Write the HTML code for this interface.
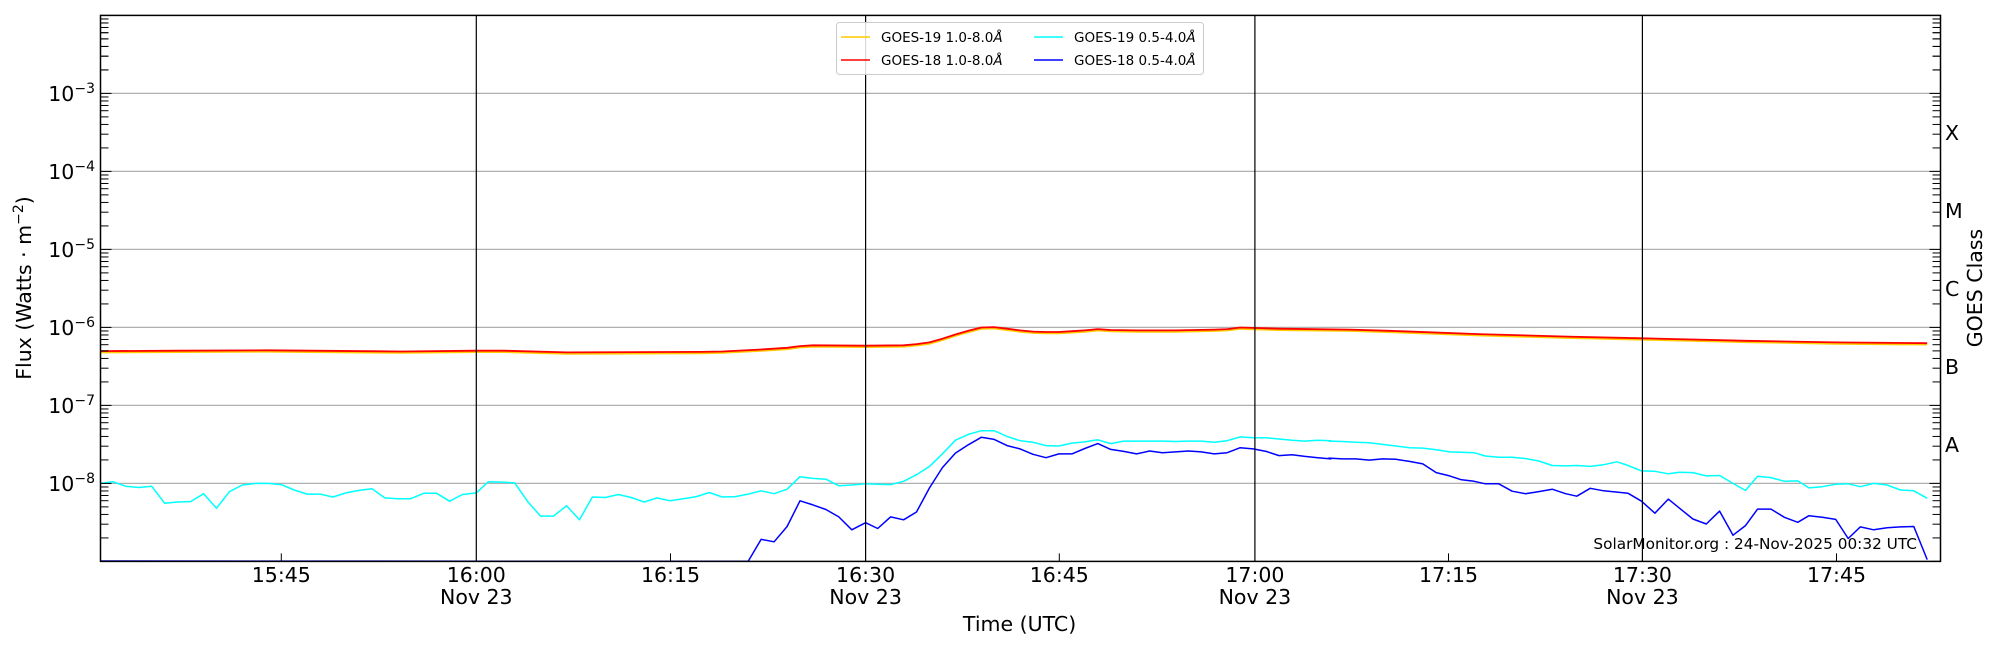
<!DOCTYPE html>
<html><head><meta charset="utf-8">
<style>
html,body{margin:0;padding:0;background:#fff;}
svg{display:block;font-family:"DejaVu Sans","Liberation Sans",sans-serif;}
</style></head>
<body>
<svg id="c" width="2000" height="650" viewBox="0 0 2000 650" xmlns="http://www.w3.org/2000/svg">
<rect x="0" y="0" width="2000" height="650" fill="#fff"/>
<g id="grid"></g>
<g id="series"></g>
<g id="axes"></g>
<g id="legend">
  <rect x="836.5" y="22.5" width="367" height="52" fill="#fff" fill-opacity="0.85" stroke="#ccc" stroke-width="1" rx="3"/>
  <line x1="841" y1="37" x2="870" y2="37" stroke="#ffcc00" stroke-width="1.5"/>
  <line x1="841" y1="60" x2="870" y2="60" stroke="#ff0000" stroke-width="1.5"/>
  <line x1="1034" y1="37" x2="1063" y2="37" stroke="#00ffff" stroke-width="1.5"/>
  <line x1="1034" y1="60" x2="1063" y2="60" stroke="#0000ff" stroke-width="1.5"/>
  <text x="881" y="41.8" font-size="13.5">GOES-19 1.0-8.0<tspan font-style="italic">Å</tspan></text>
  <text x="881" y="64.8" font-size="13.5">GOES-18 1.0-8.0<tspan font-style="italic">Å</tspan></text>
  <text x="1074" y="41.8" font-size="13.5">GOES-19 0.5-4.0<tspan font-style="italic">Å</tspan></text>
  <text x="1074" y="64.8" font-size="13.5">GOES-18 0.5-4.0<tspan font-style="italic">Å</tspan></text>
</g>
<g id="labels" font-size="20.5" fill="#000">
  <text x="1019.6" y="631" text-anchor="middle">Time (UTC)</text>
  <text transform="translate(31,288) rotate(-90)" text-anchor="middle" font-size="20.5">Flux (Watts · m<tspan baseline-shift="super" font-size="14">−2</tspan>)</text>
  <text transform="translate(1982,288) rotate(-90)" text-anchor="middle" font-size="20.5">GOES Class</text>
  <text x="1917" y="549" text-anchor="end" font-size="15.3">SolarMonitor.org : 24-Nov-2025 00:32 UTC</text>
</g>
</svg>
<script>
(function(){
var NS="http://www.w3.org/2000/svg";
function el(p,n,a,t){var e=document.createElementNS(NS,n);for(var k in a)e.setAttribute(k,a[k]);if(t!=null)e.textContent=t;p.appendChild(e);return e;}
var L=100.5,R=1940.5,T=15.4,B=561.4,DEC=78.0;
var grid=document.getElementById('grid'),axes=document.getElementById('axes'),ser=document.getElementById('series');
function yOf(e){return B-(e+9)*DEC;}
for(var e=-8;e<=-3;e++){var y=yOf(e);el(grid,'line',{x1:L,y1:y,x2:R,y2:y,stroke:'#b0b0b0','stroke-width':1.3});}
var xs=[476.3,865.6,1254.9,1642.4];
xs.forEach(function(x){el(axes,'line',{x1:x,y1:T,x2:x,y2:B,stroke:'#000','stroke-width':1.2});});
[281.3,670.5,1059.3,1448.5,1836.5].forEach(function(x){el(axes,'line',{x1:x,y1:B,x2:x,y2:B-8,stroke:'#000','stroke-width':1});});
var xl=[[281.3,'15:45',0],[476.3,'16:00',1],[670.5,'16:15',0],[865.6,'16:30',1],[1059.3,'16:45',0],[1254.9,'17:00',1],[1448.5,'17:15',0],[1642.4,'17:30',1],[1836.5,'17:45',0]];
xl.forEach(function(a){el(axes,'text',{x:a[0],y:582,'text-anchor':'middle','font-size':20.5},a[1]);if(a[2])el(axes,'text',{x:a[0],y:604,'text-anchor':'middle','font-size':20.5},'Nov 23');});
for(var d=-9;d<=-3;d++){
  for(var m=1;m<=9;m++){
    var v=d+Math.log10(m);var y=yOf(v);if(y<T-0.1)continue;
    var len=(m==1)?11:8;
    el(axes,'line',{x1:L,y1:y,x2:L+len,y2:y,stroke:'#000','stroke-width':1});
    el(axes,'line',{x1:R,y1:y,x2:R-len,y2:y,stroke:'#000','stroke-width':1});
  }
}
for(var m=2;m<=9;m++){var y=yOf(-3+Math.log10(m));el(axes,'line',{x1:L,y1:y,x2:L+8,y2:y,stroke:'#000','stroke-width':1});el(axes,'line',{x1:R,y1:y,x2:R-8,y2:y,stroke:'#000','stroke-width':1});}
for(var e=-8;e<=-3;e++){
  var y=yOf(e);
  var t=el(axes,'text',{x:95,y:y+7.5,'text-anchor':'end','font-size':20.5});
  el(t,'tspan',{},'10');
  el(t,'tspan',{'baseline-shift':'super','font-size':14},'−'+(-e));
}
var cl=['X','M','C','B','A'];
for(var i=0;i<5;i++){var y=yOf(-3.5-i);el(axes,'text',{x:1945,y:y+7.5,'font-size':20.5},cl[i]);}
el(axes,'rect',{x:L,y:T,width:R-L,height:B-T,fill:'none',stroke:'#000','stroke-width':1.5});

function conv(arr,ox){var o=[];for(var i=0;i<arr.length;i+=2)o.push([ox+arr[i]/2.24,arr[i+1]/2.4123]);return o;}
function pl(pts,col,w){el(ser,'polyline',{points:pts.map(function(p){return p[0].toFixed(1)+','+Math.min(p[1],B).toFixed(1);}).join(' '),fill:'none',stroke:col,'stroke-width':w,'stroke-linejoin':'round'});}

var c1=[225,1166,253,1162,282,1173,311,1176,340,1173,369,1214,398,1211,427,1210,456,1191,485,1226,514,1186,543,1170,572,1166,601,1166,630,1169,659,1182,688,1192,717,1192,746,1199,775,1189,804,1183,833,1179,862,1201,891,1203,920,1203,949,1190,978,1190,1007,1209,1036,1193,1067,1189,1094,1162,1124,1163,1153,1165,1182,1210,1211,1245,1240,1245,1269,1220,1298,1254,1327,1199,1356,1200,1385,1193,1414,1200,1443,1211,1472,1201,1501,1208,1530,1203];
var c3=[75,1203,104,1198,133,1188,162,1199,191,1198,220,1192,249,1184,278,1191,307,1180,336,1150,365,1154,394,1156,423,1172,452,1170,483,1167,510,1168,539,1169,568,1161,597,1145,626,1125,655,1095,684,1062,713,1048,742,1039,771,1039,800,1053,829,1063,858,1067,887,1075,916,1076,945,1069,974,1066,1003,1061,1032,1070,1061,1064,1090,1064,1119,1064,1148,1064,1177,1065,1206,1064,1235,1064,1264,1067,1293,1063,1322,1054,1351,1056,1380,1056,1409,1059,1438,1062,1467,1064,1496,1062,1525,1063];
var c2=[65,1064,95,1065,125,1067,155,1068,185,1072,215,1076,245,1080,275,1081,305,1085,335,1090,360,1091,390,1092,415,1100,445,1103,475,1103,505,1106,535,1112,565,1123,595,1124,620,1123,650,1125,680,1121,710,1114,735,1123,765,1136,795,1137,825,1143,850,1139,880,1140,910,1148,940,1147,970,1166,998,1183,1025,1149,1055,1152,1085,1161,1115,1160,1140,1177,1170,1174,1200,1168,1228,1167,1255,1174,1285,1166,1315,1170,1345,1182,1375,1184,1405,1202];
var cyan=conv(c1,0).concat(conv(c3,650)).concat(conv(c2,1300));
var b3=[220,1354,249,1301,278,1307,307,1270,336,1208,365,1218,394,1229,423,1247,452,1278,483,1261,510,1275,539,1247,568,1254,597,1235,626,1177,655,1128,684,1093,713,1073,742,1055,771,1060,800,1075,829,1083,858,1096,887,1104,916,1095,945,1095,974,1082,1003,1070,1032,1084,1061,1089,1090,1095,1119,1088,1148,1092,1177,1090,1206,1088,1235,1090,1264,1095,1293,1092,1322,1080,1351,1083,1380,1089,1409,1099,1438,1097,1467,1101,1496,1104,1525,1107];
var b2=[65,1105,95,1107,125,1107,155,1110,185,1107,215,1108,245,1113,275,1119,305,1140,335,1148,360,1157,390,1161,415,1167,445,1167,475,1185,505,1191,535,1186,565,1180,595,1191,620,1197,650,1178,680,1184,710,1187,735,1190,765,1209,795,1238,825,1204,850,1226,880,1252,910,1264,940,1233,970,1291,998,1268,1025,1228,1055,1228,1085,1248,1115,1260,1140,1244,1170,1248,1200,1253,1228,1299,1255,1271,1285,1278,1315,1273,1345,1271,1375,1270,1405,1350];
var blue=[[100.5,561]].concat(conv(b3,650)).concat(conv(b2,1300));
var r1=[225,847,400,846,600,845,900,848,1067,846,1130,846,1270,850,1568,849];
var r3=[162,848,249,843,307,839,336,835,365,833,483,834,568,833,597,830,626,826,655,817,684,807,713,798,742,790,771,789,800,793,829,797,858,800,887,801,916,801,945,799,974,797,1003,794,1032,796,1090,797,1177,797,1264,795,1293,794,1322,790,1351,791,1409,793,1568,795];
var r2=[200,798,400,806,600,812,767,816,1000,822,1200,826,1405,828];
var red=conv(r1,0).concat(conv(r3,650)).concat(conv(r2,1300));
var orange=red.map(function(p){return [p[0],p[1]+1.3];});
pl(orange,'#ffcc00',2);
pl(red,'#ff0000',1.8);
pl(cyan,'#00ffff',1.5);
pl(blue,'#0000ff',1.5);
})();
</script>
</body></html>
